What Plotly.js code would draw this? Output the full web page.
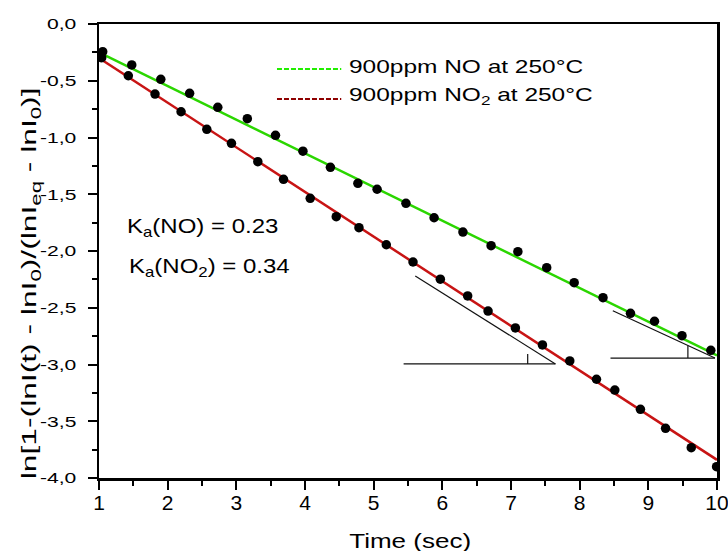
<!DOCTYPE html>
<html><head><meta charset="utf-8">
<script src="https://cdn.plot.ly/plotly-3.0.1.min.js"></script>
<style>html,body{margin:0;padding:0;background:#fff;} #chart{width:728px;height:551px;}</style>
</head><body><div id="chart"></div>
<script>
// ---- data ----
const noTime  = [1.054,1.477,1.90,2.32,2.73,3.16,3.57,3.97,4.37,4.77,5.05,5.47,5.88,6.30,6.71,7.10,7.52,7.92,8.34,8.74,9.09,9.49,9.91];
const noValue = [-0.244,-0.361,-0.487,-0.611,-0.734,-0.834,-0.981,-1.121,-1.263,-1.404,-1.456,-1.580,-1.707,-1.833,-1.953,-2.006,-2.147,-2.279,-2.411,-2.549,-2.619,-2.746,-2.875];
const no2Time  = [1.039,1.427,1.816,2.195,2.570,2.929,3.313,3.687,4.076,4.455,4.786,5.184,5.573,5.971,6.369,6.666,7.064,7.458,7.856,8.245,8.512,8.885,9.251,9.625,9.994];
const no2Value = [-0.297,-0.456,-0.617,-0.773,-0.928,-1.051,-1.213,-1.368,-1.536,-1.698,-1.795,-1.945,-2.097,-2.248,-2.396,-2.529,-2.678,-2.828,-2.969,-3.130,-3.225,-3.395,-3.562,-3.733,-3.900];
const noFitTime = [1, 10];
const noFitValue = [-0.25, -2.92];
const no2FitTime = [1, 10];
const no2FitValue = [-0.30, -3.84];
const xTickValues = [1,2,3,4,5,6,7,8,9,10];
const xTickLabels = ['1','2','3','4','5','6','7','8','9','10'];
const yTickValues = [0,-0.5,-1,-1.5,-2,-2.5,-3,-3.5,-4];
const yTickLabels = ['0,0','-0,5','-1,0','-1,5','-2,0','-2,5','-3,0','-3,5','-4,0'];
const legendLabels = ['900ppm NO at 250°C','900ppm NO<sub>2</sub> at 250°C'];
const rateLabels = ['K<sub>a</sub>(NO) = 0.23','K<sub>a</sub>(NO<sub>2</sub>) = 0.34'];
const xTitle = 'Time (sec)';
const yTitle = 'ln[1-(lnI(t) - lnI<sub>0</sub>)/(lnI<sub>eq</sub> - lnI<sub>0</sub>)]';
// slope triangles (data coordinates)
const tri1HypX = [5.606, 7.647], tri1HypY = [-2.220, -2.995];
const tri1BaseX = [5.436, 7.647], tri1BaseY = [-2.995, -2.995];
const tri1TickX = [7.243, 7.243], tri1TickY = [-2.907, -2.995];
const tri2HypX = [8.483, 9.970], tri2HypY = [-2.526, -2.943];
const tri2BaseX = [8.449, 9.970], tri2BaseY = [-2.943, -2.943];
const tri2TickX = [9.576, 9.576], tri2TickY = [-2.835, -2.943];

const FONT = 'Liberation Sans, Arial, sans-serif';
const GREEN = '#2bd600', RED = '#c81414';

const traces = [
  {x: noFitTime, y: noFitValue, mode:'lines', line:{color:GREEN, width:2.5}, showlegend:false, hoverinfo:'skip'},
  {x: no2FitTime, y: no2FitValue, mode:'lines', line:{color:RED, width:2.5}, showlegend:false, hoverinfo:'skip'},
  {x: noTime, y: noValue, mode:'markers', marker:{color:'#000', size:9.5, symbol:'circle'}, showlegend:false},
  {x: no2Time, y: no2Value, mode:'markers', marker:{color:'#000', size:9.5, symbol:'circle'}, showlegend:false}
];

function seg(xs, ys, color, w, dash, ref){
  return {type:'line', xref: ref||'x', yref: ref||'y', x0:xs[0], x1:xs[1], y0:ys[0], y1:ys[1], line:{color:color, width:w, dash:dash||'solid'}};
}
const shapes = [
  seg(tri1HypX, tri1HypY, '#111', 1.2), seg(tri1BaseX, tri1BaseY, '#111', 1.2), seg(tri1TickX, tri1TickY, '#111', 1.2),
  seg(tri2HypX, tri2HypY, '#111', 1.2), seg(tri2BaseX, tri2BaseY, '#111', 1.2), seg(tri2TickX, tri2TickY, '#111', 1.2),
  seg([0.288,0.392],[0.901,0.901], '#22ee00', 2, '5px,2px', 'paper'),
  seg([0.288,0.392],[0.835,0.835], '#8e0000', 2, '5px,2px', 'paper')
];

const annotations = [
  {text: legendLabels[0], xref:'paper', yref:'paper', x:0.401, y:0.905, xanchor:'left', yanchor:'middle', align:'left', showarrow:false, font:{family:FONT, size:18, color:'#000'}},
  {text: legendLabels[1], xref:'paper', yref:'paper', x:0.401, y:0.840, xanchor:'left', yanchor:'middle', align:'left', showarrow:false, font:{family:FONT, size:18, color:'#000'}},
  {text: rateLabels[0], xref:'paper', yref:'paper', x:0.0425, y:0.551, xanchor:'left', yanchor:'middle', align:'left', showarrow:false, font:{family:FONT, size:20, color:'#000'}},
  {text: rateLabels[1], xref:'paper', yref:'paper', x:0.0455, y:0.463, xanchor:'left', yanchor:'middle', align:'left', showarrow:false, font:{family:FONT, size:20, color:'#000'}},
  {text: xTitle, xref:'paper', yref:'paper', x:0.503, y:-0.1366, xanchor:'center', yanchor:'middle', showarrow:false, font:{family:FONT, size:21, color:'#000'}},
  {text: yTitle, xref:'paper', yref:'paper', x:-0.1115, y:0.428, xanchor:'center', yanchor:'middle', textangle:-90, showarrow:false, font:{family:FONT, size:20.5, color:'#000'}}
];
const annScale = [1.36, 1.36, 1.2, 1.2, 1.24, 1.55];

const axisCommon = {showgrid:false, zeroline:false, showline:true, linecolor:'#000', linewidth:2.5, mirror:true,
  ticks:'outside', ticklen:9, tickwidth:2, tickcolor:'#000'};

const layout = {
  width:728, height:551, margin:{l:99, r:11, t:24, b:73},
  paper_bgcolor:'#fff', plot_bgcolor:'#fff', showlegend:false,
  font:{family:FONT, color:'#000'},
  xaxis: Object.assign({}, axisCommon, {range:[1,10], tickvals:xTickValues, ticktext:xTickLabels,
    tickfont:{family:FONT, size:21, color:'#000'}, ticklabeloverflow:'allow', ticklabelstandoff:-5,
    minor:{ticks:'outside', ticklen:5, tickwidth:2, tickcolor:'#000', dtick:0.5}}),
  yaxis: Object.assign({}, axisCommon, {range:[-4,0], tickvals:yTickValues, ticktext:yTickLabels,
    tickfont:{family:FONT, size:15.5, color:'#000'}, ticklabelstandoff:8,
    minor:{ticks:'outside', ticklen:5, tickwidth:2, tickcolor:'#000', dtick:0.25}}),
  shapes: shapes, annotations: annotations
};

// tidy Plotly's sub/sup markup: absolute font sizes, no zero-width spacer tspans
function cleanSpacers(root){
  Array.from(root.querySelectorAll('tspan')).forEach(sp => {
    const fs = sp.style.fontSize;
    if (fs && fs.indexOf('%') >= 0) {
      sp.style.fontSize = window.getComputedStyle(sp).fontSize;
    }
  });
  Array.from(root.querySelectorAll('tspan')).forEach(sp => {
    if (sp.textContent.replace(/\u200b/g, '') !== '') return;
    const dy = sp.getAttribute('dy');
    const next = sp.nextSibling;
    if (next && next.nodeType === 3 && next.textContent.length) {
      const ts = document.createElementNS('http://www.w3.org/2000/svg', 'tspan');
      if (dy) ts.setAttribute('dy', dy);
      ts.textContent = next.textContent;
      next.parentNode.replaceChild(ts, next);
    } else if (next && next.nodeType === 1 && dy) {
      const old = parseFloat(next.getAttribute('dy') || '0');
      next.setAttribute('dy', (old + parseFloat(dy)) + 'em');
    }
    sp.parentNode.removeChild(sp);
  });
  const walker = document.createTreeWalker(root, NodeFilter.SHOW_TEXT);
  const list = []; let n;
  while ((n = walker.nextNode())) list.push(n);
  list.forEach(t => { if (t.textContent.indexOf('\u200b') >= 0) t.textContent = t.textContent.replace(/\u200b/g, ''); });
}

function stretch(nodes, s){
  nodes.forEach(t => {
    const b = t.getBBox();
    const a = t.getAttribute('text-anchor') || 'start';
    let ax = a === 'end' ? b.x + b.width : (a === 'middle' ? b.x + b.width/2 : b.x);
    const tr = t.getAttribute('transform') || '';
    t.setAttribute('transform', tr + ' translate(' + ax + ',0) scale(' + s + ',1) translate(' + (-ax) + ',0)');
  });
}

const gd = document.getElementById('chart');
Plotly.newPlot(gd, traces, layout, {staticPlot:true, displayModeBar:false}).then(() => {
  cleanSpacers(gd);
  stretch(Array.from(gd.querySelectorAll('.ytick text')), 1.36);
  const anns = Array.from(gd.querySelectorAll('.annotation'));
  anns.forEach((g, i) => stretch(Array.from(g.querySelectorAll('text.annotation-text')), annScale[i] || 1));
});
</script>
</body></html>
